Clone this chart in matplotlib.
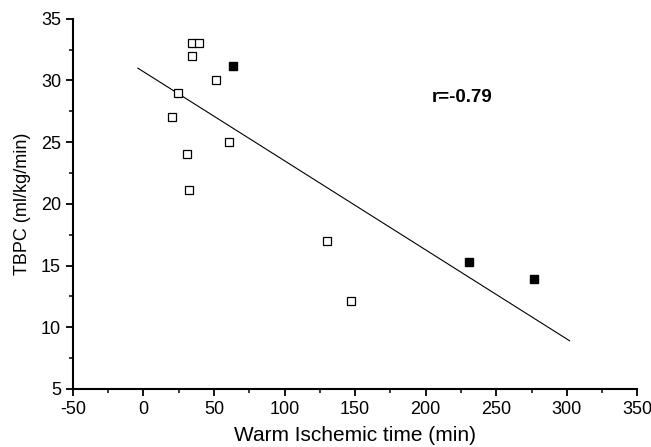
import matplotlib.pyplot as plt
from matplotlib.ticker import MultipleLocator

plt.rcParams['font.family'] = ['Liberation Sans', 'DejaVu Sans']
plt.rcParams['axes.unicode_minus'] = False

# open squares
open_x = [34.5, 39.5, 34.5, 51.5, 24.5, 20.5, 60.5, 30.5, 32.5, 130, 147]
open_y = [33.0, 33.0, 32.0, 30.0, 29.0, 27.0, 25.0, 24.0, 21.1, 17.0, 12.1]
# filled squares
fill_x = [63.5, 230.5, 276.5]
fill_y = [31.2, 15.3, 13.9]
# regression line end points
fit_x = [-4, 302]
fit_y = [31.0, 8.9]
r_text = "r=-0.79"

fig = plt.figure(figsize=(6.51, 4.47), dpi=100)
ax = fig.add_axes([0.112, 0.13, 0.867, 0.828])

ax.plot(fit_x, fit_y, color='black', linewidth=0.8)
ax.plot(open_x, open_y, linestyle='none', marker='s', markersize=5.2,
        markerfacecolor='white', markeredgecolor='black', markeredgewidth=0.9)
ax.plot(fill_x, fill_y, linestyle='none', marker='s', markersize=6,
        markerfacecolor='black', markeredgecolor='black')

ax.text(204, 28.6, r_text, fontsize=13.5, fontweight='bold', va='center', ha='left')

ax.set_xlim(-50, 350)
ax.set_ylim(5, 35)
ax.xaxis.set_major_locator(MultipleLocator(50))
ax.xaxis.set_minor_locator(MultipleLocator(25))
ax.yaxis.set_major_locator(MultipleLocator(5))
ax.yaxis.set_minor_locator(MultipleLocator(2.5))

for s in ['top', 'right']:
    ax.spines[s].set_visible(False)
for s in ['left', 'bottom']:
    ax.spines[s].set_linewidth(1.5)

ax.tick_params(which='major', direction='out', length=5, width=1.3, labelsize=13)
ax.tick_params(which='minor', direction='out', length=3, width=1.1)

ax.set_xlabel("Warm Ischemic time (min)", fontsize=15, labelpad=6)
ax.set_ylabel("TBPC (ml/kg/min)", fontsize=13, labelpad=7)

fig.savefig("out.png", dpi=100)
